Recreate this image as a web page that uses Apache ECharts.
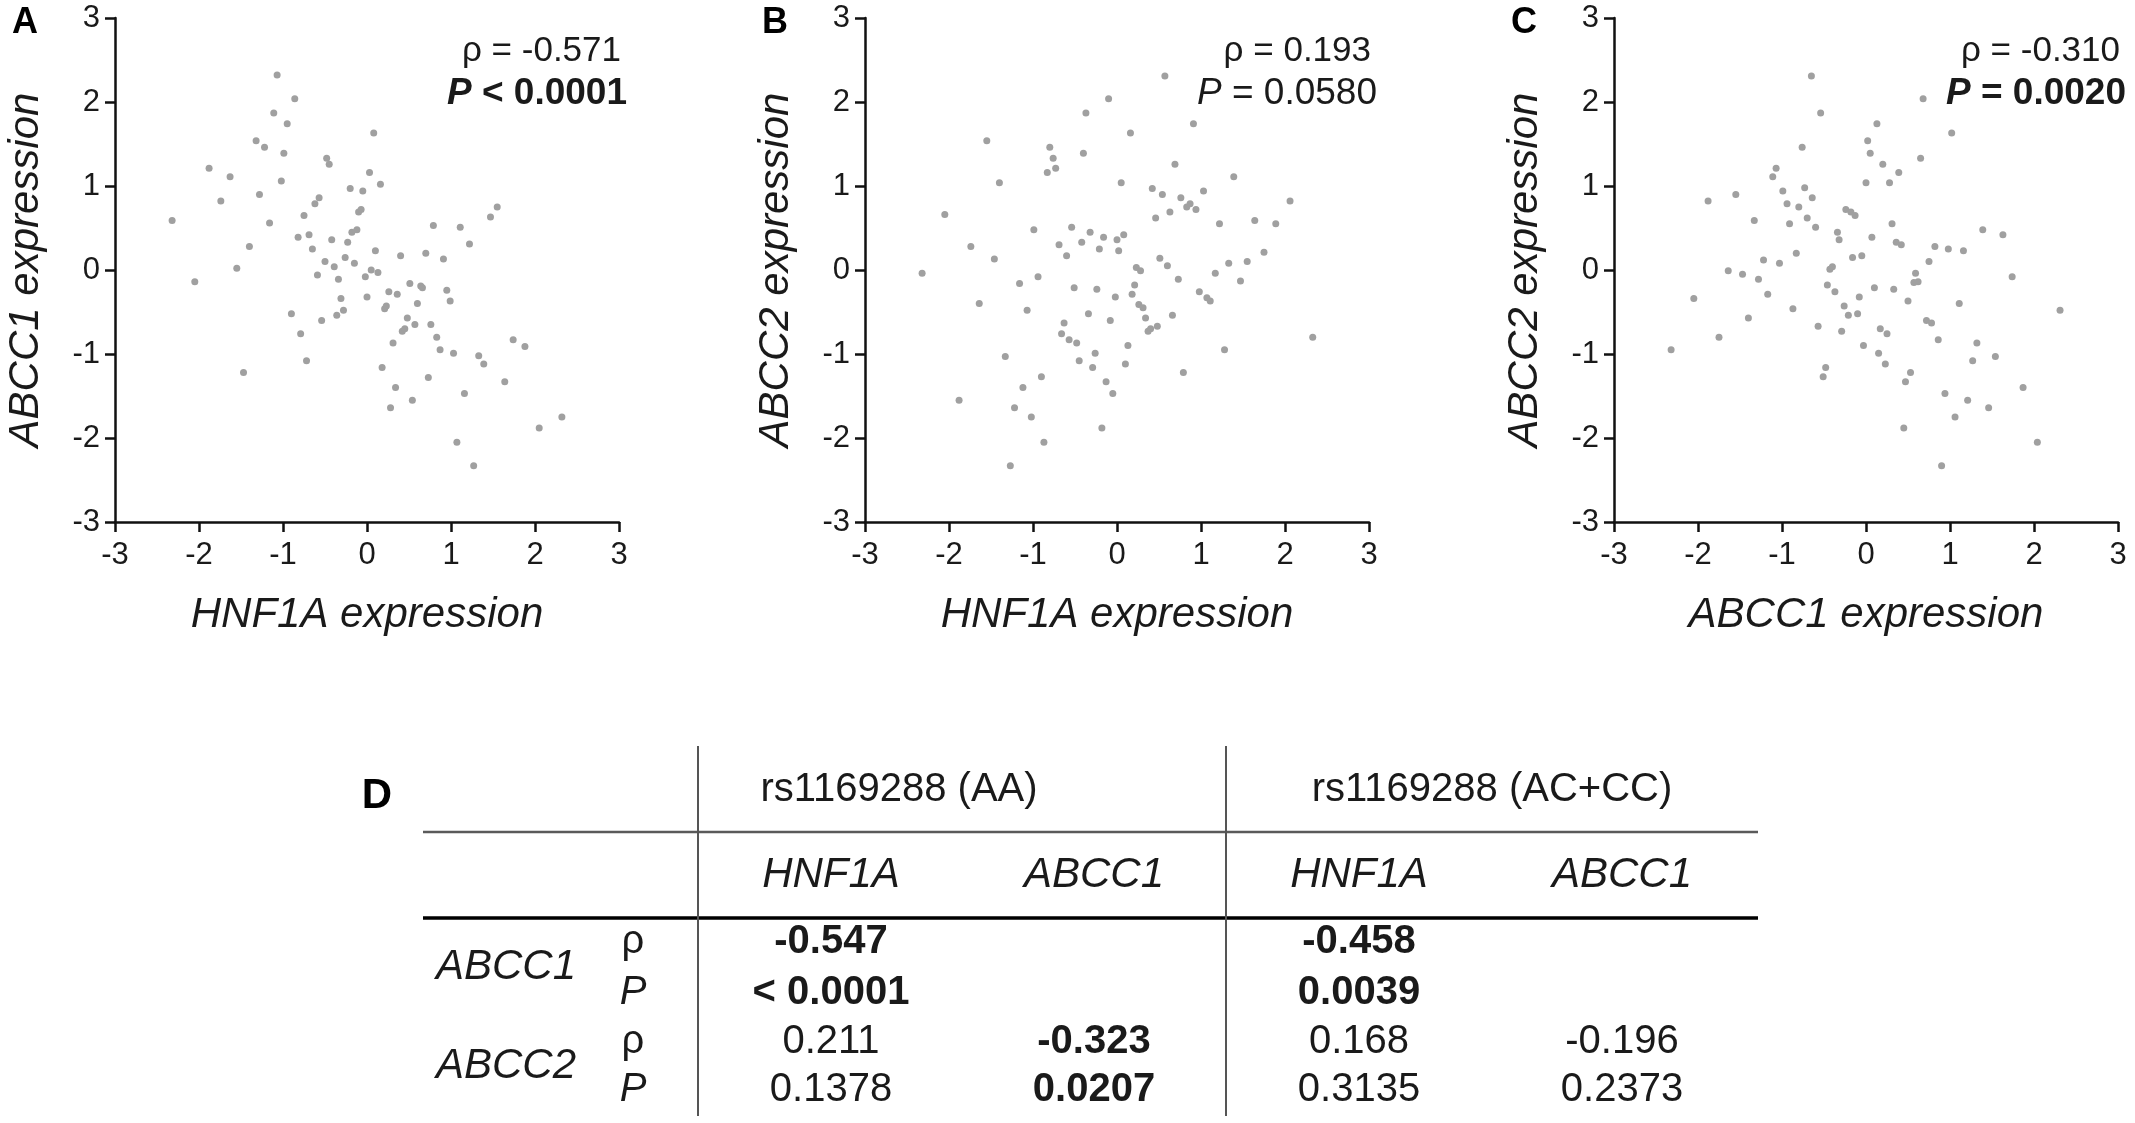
<!DOCTYPE html>
<html>
<head>
<meta charset="utf-8">
<script src="https://cdn.jsdelivr.net/npm/echarts@6/dist/echarts.min.js"></script>
<style>
  html, body { margin: 0; padding: 0; background: #fff; }
  #main { width: 2135px; height: 1123px; }
</style>
</head>
<body>
<div id="main"></div>
<script>
// panel A: HNF1A (x) vs ABCC1 (y)
var pointsA = [
  [-2.32, 0.59], [-2.05, -0.14], [-1.88, 1.21], [-1.74, 0.82], [-1.63, 1.11], [-1.55, 0.02],
  [-1.47, -1.22], [-1.40, 0.28], [-1.32, 1.54], [-1.28, 0.90], [-1.22, 1.46], [-1.16, 0.56],
  [-1.11, 1.87], [-1.07, 2.32], [-1.02, 1.06], [-0.99, 1.39], [-0.95, 1.74], [-0.90, -0.52],
  [-0.86, 2.04], [-0.82, 0.39], [-0.79, -0.76], [-0.75, 0.65], [-0.72, -1.08], [-0.69, 0.42],
  [-0.65, 0.25], [-0.62, 0.79], [-0.59, -0.06], [-0.57, 0.86], [-0.54, -0.60], [-0.50, 0.10],
  [-0.48, 1.33], [-0.45, 1.26], [-0.42, 0.36], [-0.39, 0.04], [-0.36, -0.54], [-0.34, -0.11],
  [-0.31, -0.34], [-0.28, -0.48], [-0.26, 0.15], [-0.23, 0.33], [-0.20, 0.97], [-0.18, 0.45],
  [-0.15, 0.08], [-0.12, 0.48], [-0.10, 0.69], [-0.07, 0.72], [-0.05, 0.94], [-0.02, -0.08],
  [0.00, -0.32], [0.03, 1.16], [0.05, 0.00], [0.08, 1.63], [0.10, 0.23], [0.13, -0.03],
  [0.16, 1.02], [0.18, -1.16], [0.21, -0.46], [0.23, -0.43], [0.26, -0.26], [0.28, -1.64],
  [0.31, -0.87], [0.34, -1.40], [0.36, -0.29], [0.40, 0.17], [0.42, -0.73], [0.45, -0.70],
  [0.48, -0.57], [0.51, -0.16], [0.54, -1.55], [0.57, -0.65], [0.60, -0.40], [0.64, -0.19],
  [0.66, -0.21], [0.70, 0.20], [0.73, -1.28], [0.76, -0.65], [0.79, 0.53], [0.83, -0.80],
  [0.87, -0.95], [0.91, 0.13], [0.95, -0.24], [0.99, -0.37], [1.03, -0.99], [1.07, -2.05],
  [1.11, 0.51], [1.16, -1.47], [1.22, 0.31], [1.27, -2.33], [1.33, -1.02], [1.39, -1.12],
  [1.47, 0.63], [1.55, 0.75], [1.64, -1.33], [1.74, -0.83], [1.88, -0.91], [2.05, -1.88],
  [2.32, -1.75]
];

// panel B: HNF1A (x) vs ABCC2 (y)
var pointsB = [
  [-2.32, -0.04], [-2.05, 0.66], [-1.88, -1.55], [-1.74, 0.28], [-1.64, -0.40], [-1.55, 1.54],
  [-1.46, 0.13], [-1.40, 1.04], [-1.33, -1.03], [-1.27, -2.33], [-1.22, -1.64], [-1.16, -0.16],
  [-1.12, -1.40], [-1.07, -0.48], [-1.02, -1.75], [-0.99, 0.48], [-0.94, -0.08], [-0.90, -1.27],
  [-0.87, -2.05], [-0.83, 1.16], [-0.80, 1.46], [-0.76, 1.33], [-0.73, 1.21], [-0.69, 0.30],
  [-0.66, -0.76], [-0.63, -0.63], [-0.60, 0.17], [-0.57, -0.83], [-0.54, 0.51], [-0.51, -0.21],
  [-0.48, -0.87], [-0.45, -1.08], [-0.42, 0.33], [-0.40, 1.39], [-0.37, 1.87], [-0.34, -0.52],
  [-0.32, 0.45], [-0.29, -1.16], [-0.26, -0.99], [-0.24, -0.23], [-0.21, 0.25], [-0.18, -1.88],
  [-0.16, 0.39], [-0.13, -1.33], [-0.10, 2.04], [-0.08, -0.60], [-0.05, -1.47], [-0.02, -0.32],
  [0.00, 0.36], [0.02, 0.23], [0.05, 1.04], [0.08, 0.42], [0.10, -1.12], [0.13, -0.90],
  [0.16, 1.63], [0.18, -0.29], [0.21, -0.18], [0.23, 0.03], [0.26, -0.41], [0.28, -0.01],
  [0.31, -0.45], [0.34, -0.57], [0.37, -0.73], [0.40, -0.70], [0.42, 0.97], [0.46, 0.62],
  [0.48, -0.67], [0.51, 0.14], [0.54, 0.90], [0.57, 2.31], [0.60, 0.05], [0.63, 0.69],
  [0.66, -0.54], [0.69, 1.26], [0.73, -0.11], [0.76, 0.86], [0.79, -1.22], [0.83, 0.75],
  [0.87, 0.79], [0.91, 1.74], [0.94, 0.72], [0.98, -0.26], [1.03, 0.94], [1.07, -0.33],
  [1.11, -0.37], [1.17, -0.04], [1.22, 0.55], [1.28, -0.95], [1.33, 0.08], [1.39, 1.11],
  [1.47, -0.13], [1.55, 0.10], [1.64, 0.59], [1.75, 0.21], [1.89, 0.55], [2.06, 0.82],
  [2.33, -0.80]
];

// panel C: ABCC1 (x) vs ABCC2 (y)
var pointsC = [
  [-2.32, -0.95], [-2.05, -0.34], [-1.88, 0.82], [-1.75, -0.80], [-1.64, -0.01], [-1.55, 0.90],
  [-1.47, -0.05], [-1.40, -0.57], [-1.33, 0.59], [-1.28, -0.11], [-1.22, 0.12], [-1.17, -0.29],
  [-1.11, 1.11], [-1.07, 1.21], [-1.03, 0.08], [-0.99, 0.94], [-0.94, 0.79], [-0.91, 0.55],
  [-0.87, -0.46], [-0.83, 0.20], [-0.80, 0.75], [-0.76, 1.46], [-0.73, 0.98], [-0.70, 0.62],
  [-0.65, 2.31], [-0.64, 0.86], [-0.60, 0.51], [-0.57, -0.67], [-0.54, 1.87], [-0.51, -1.27],
  [-0.48, -1.16], [-0.46, -0.18], [-0.43, 0.01], [-0.40, 0.04], [-0.37, -0.26], [-0.34, 0.45],
  [-0.32, 0.36], [-0.29, -0.73], [-0.26, -0.43], [-0.24, 0.72], [-0.21, -0.54], [-0.18, 0.69],
  [-0.16, 0.15], [-0.13, 0.65], [-0.10, -0.52], [-0.08, -0.32], [-0.05, 0.17], [-0.03, -0.90],
  [0.00, 1.04], [0.02, 1.54], [0.05, 1.39], [0.07, 0.39], [0.10, -0.21], [0.13, 1.74],
  [0.15, -0.99], [0.17, -0.70], [0.20, 1.26], [0.23, -1.12], [0.25, -0.76], [0.28, 1.04],
  [0.31, 0.55], [0.33, -0.23], [0.36, 0.33], [0.39, 1.16], [0.42, 0.30], [0.45, -1.88],
  [0.47, -1.33], [0.50, -0.37], [0.53, -1.22], [0.57, -0.15], [0.59, -0.04], [0.62, -0.14],
  [0.65, 1.33], [0.68, 2.04], [0.72, -0.60], [0.75, 0.10], [0.78, -0.63], [0.82, 0.28],
  [0.86, -0.83], [0.90, -2.33], [0.94, -1.47], [0.98, 0.25], [1.02, 1.63], [1.06, -1.75],
  [1.11, -0.40], [1.16, 0.23], [1.21, -1.55], [1.27, -1.08], [1.32, -0.87], [1.39, 0.48],
  [1.46, -1.64], [1.54, -1.03], [1.63, 0.42], [1.74, -0.08], [1.87, -1.40], [2.04, -2.05],
  [2.31, -0.48]
];

var panelLetters = ['A', 'B', 'C'];
var xTitles = ['HNF1A expression', 'HNF1A expression', 'ABCC1 expression'];
var yTitles = ['ABCC1 expression', 'ABCC2 expression', 'ABCC2 expression'];
var rhoText = ['ρ = -0.571', 'ρ = 0.193', 'ρ = -0.310'];
var pText = ['< 0.0001', '= 0.0580', '= 0.0020'];
var pBold = [true, false, true];

// table D
var tableGroups = ['rs1169288 (AA)', 'rs1169288 (AC+CC)'];
var tableCols = ['HNF1A', 'ABCC1', 'HNF1A', 'ABCC1'];
var tableGenes = ['ABCC1', 'ABCC2'];
var tableStats = ['ρ', 'P', 'ρ', 'P'];
var tableValues = [
  ['-0.547', '', '-0.458', ''],
  ['< 0.0001', '', '0.0039', ''],
  ['0.211', '-0.323', '0.168', '-0.196'],
  ['0.1378', '0.0207', '0.3135', '0.2373']
];
var tableBold = [
  [1, 0, 1, 0],
  [1, 0, 1, 0],
  [0, 1, 0, 0],
  [0, 1, 0, 0]
];

var FONT = 'Liberation Sans, Arial, sans-serif';
var INK = '#1a1a1a';
var gridLeft = [115, 865, 1614];
var PLOT = 504;
var TOP = 18;

var chartDom = document.getElementById('main');
var myChart = echarts.init(chartDom, null, { renderer: 'canvas' });

var grids = [], xAxes = [], yAxes = [], series = [], graphics = [];
var allPoints = [pointsA, pointsB, pointsC];

for (var i = 0; i < 3; i++) {
  grids.push({ left: gridLeft[i], top: TOP, width: PLOT, height: PLOT });
  var axisCommon = {
    gridIndex: i,
    type: 'value',
    min: -3,
    max: 3,
    interval: 1,
    splitLine: { show: false },
    axisLine: { onZero: false, lineStyle: { color: '#111', width: 2.5 } },
    axisTick: { length: 10, lineStyle: { color: '#111', width: 2.5 } },
    nameLocation: 'middle',
    nameTextStyle: { fontSize: 42, fontStyle: 'italic', color: INK, fontFamily: FONT }
  };
  xAxes.push(Object.assign({}, axisCommon, {
    name: xTitles[i],
    nameGap: 72,
    axisLabel: { fontSize: 31, color: INK, margin: 18, fontFamily: FONT }
  }));
  yAxes.push(Object.assign({}, axisCommon, {
    name: yTitles[i],
    nameGap: 68,
    axisLabel: { fontSize: 31, color: INK, margin: 15, fontFamily: FONT }
  }));
  series.push({
    type: 'scatter',
    xAxisIndex: i,
    yAxisIndex: i,
    data: allPoints[i],
    symbolSize: 7,
    itemStyle: { color: '#a0a0a0', opacity: 1 },
    silent: true
  });

  var right = gridLeft[i] + PLOT;
  // panel letter
  graphics.push({
    type: 'text', x: gridLeft[i] - 90, y: 23,
    style: { text: panelLetters[i], fontSize: 36, fontWeight: 'bold', fill: '#000',
      fontFamily: FONT, align: 'center', verticalAlign: 'middle' }
  });
  // correlation text
  graphics.push({
    type: 'text', x: right + 2, y: 51,
    style: { text: rhoText[i], fontSize: 35, fill: INK, fontFamily: FONT,
      align: 'right', verticalAlign: 'middle' }
  });
  var w = pBold[i] ? 'bold' : 'normal';
  graphics.push({
    type: 'text', x: right + 8, y: 94,
    style: {
      text: '{p|P} {v|' + pText[i] + '}',
      fontSize: 37, fontWeight: w, fill: INK, fontFamily: FONT,
      align: 'right', verticalAlign: 'middle',
      rich: {
        p: { fontSize: 37, fontWeight: w, fontStyle: 'italic', fill: INK, fontFamily: FONT },
        v: { fontSize: 37, fontWeight: w, fill: INK, fontFamily: FONT }
      }
    }
  });
}

// table D
var colX = [831, 1094, 1359, 1622];
var rowY = [942, 993, 1042, 1090];
var groupX = [899, 1492];
var vLineX = [698, 1226];

graphics.push({
  type: 'text', x: 377, y: 796,
  style: { text: 'D', fontSize: 42, fontWeight: 'bold', fill: '#000', fontFamily: FONT,
    align: 'center', verticalAlign: 'middle' }
});
graphics.push({ type: 'line', shape: { x1: 423, y1: 832, x2: 1758, y2: 832 },
  style: { stroke: '#5a5a5a', lineWidth: 2.5 } });
graphics.push({ type: 'line', shape: { x1: 423, y1: 918, x2: 1758, y2: 918 },
  style: { stroke: '#000', lineWidth: 3.5 } });
vLineX.forEach(function (vx) {
  graphics.push({ type: 'line', shape: { x1: vx, y1: 746, x2: vx, y2: 1116 },
    style: { stroke: '#555', lineWidth: 2 } });
});
tableGroups.forEach(function (g, k) {
  graphics.push({ type: 'text', x: groupX[k], y: 790,
    style: { text: g, fontSize: 40, fill: INK, fontFamily: FONT, align: 'center', verticalAlign: 'middle' } });
});
tableCols.forEach(function (c, k) {
  graphics.push({ type: 'text', x: colX[k], y: 875,
    style: { text: c, fontSize: 42, fontStyle: 'italic', fill: INK, fontFamily: FONT,
      align: 'center', verticalAlign: 'middle' } });
});
tableGenes.forEach(function (g, k) {
  graphics.push({ type: 'text', x: 506, y: k === 0 ? 967 : 1066,
    style: { text: g, fontSize: 42, fontStyle: 'italic', fill: INK, fontFamily: FONT,
      align: 'center', verticalAlign: 'middle' } });
});
tableStats.forEach(function (s, r) {
  graphics.push({ type: 'text', x: 633, y: rowY[r],
    style: { text: s, fontSize: 40, fontStyle: s === 'P' ? 'italic' : 'normal', fill: INK,
      fontFamily: FONT, align: 'center', verticalAlign: 'middle' } });
});
tableValues.forEach(function (row, r) {
  row.forEach(function (v, c) {
    if (!v) return;
    graphics.push({ type: 'text', x: colX[c], y: rowY[r],
      style: { text: v, fontSize: 40, fontWeight: tableBold[r][c] ? 'bold' : 'normal', fill: INK,
        fontFamily: FONT, align: 'center', verticalAlign: 'middle' } });
  });
});

var option = {
  backgroundColor: '#fff',
  animation: false,
  grid: grids,
  xAxis: xAxes,
  yAxis: yAxes,
  series: series,
  graphic: graphics
};
option && myChart.setOption(option);
</script>
</body>
</html>
